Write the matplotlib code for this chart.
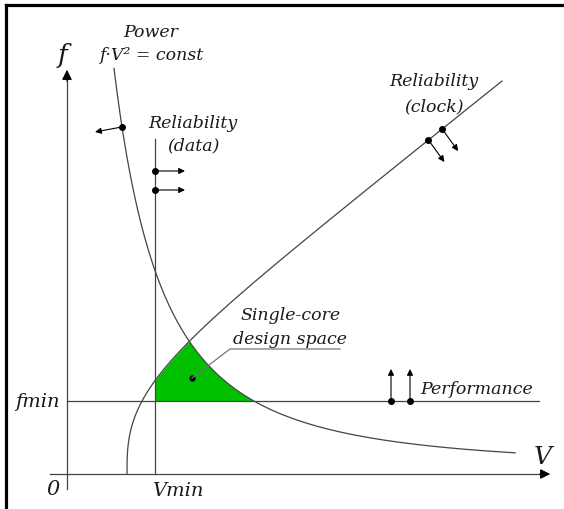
import numpy as np
import matplotlib
matplotlib.use("Agg")
import matplotlib.pyplot as plt

# V-f design space: units are arbitrary (1 unit = 100 px on the canvas)
V_MIN = 0.88
F_MIN = 0.73

# power curve  f = F0 + C / (V - V0)^2
POWER_C = 3.76
POWER_V0 = -0.50
POWER_F0 = 0.06
POWER_V_RANGE = [0.47, 4.48]

# clock reliability curve, given as V(f) (vertical at the threshold voltage)
CLOCK_VT = 0.60
CLOCK_SLOPE = 0.80
CLOCK_H = 0.93
CLOCK_F_RANGE = [0.0, 3.93]

# marker positions on each constraint
power_dot_v = [0.55]
data_dot_f = [3.03, 2.84]
clock_dot_f = [3.34, 3.45]
perf_dot_v = [3.24, 3.43]
design_dot = [1.25, 0.96]

LINE = "#444444"
GREEN = "#00c000"


def power_f(v):
    return POWER_F0 + POWER_C / (v - POWER_V0) ** 2


def power_v(f):
    return POWER_V0 + np.sqrt(POWER_C / (f - POWER_F0))


def clock_v(f):
    return CLOCK_VT + (f - CLOCK_H * np.tanh(f / CLOCK_H)) / CLOCK_SLOPE


fig = plt.figure(figsize=(5.64, 5.10), dpi=100)
ax = fig.add_axes([5.5 / 564, 0, 1 - 5.5 / 564, 1 - 5.5 / 510])
ax.set_xlim(-0.615, 4.97)
ax.set_ylim(-0.35, 4.695)
ax.set_xticks([])
ax.set_yticks([])
for side in ["right", "bottom"]:
    ax.spines[side].set_visible(False)
for side in ["top", "left"]:
    ax.spines[side].set_linewidth(2.3)
    ax.spines[side].set_color("black")

font = dict(family="DejaVu Serif", style="italic", color="#1a1a1a")
LW = 0.9

# axes with arrow heads
ax.plot([0, 0], [-0.15, 3.95], color=LINE, lw=LW)
ax.plot([-0.17, 4.75], [0, 0], color=LINE, lw=LW)
ax.annotate("", xy=(0, 4.07), xytext=(0, 3.9),
            arrowprops=dict(arrowstyle="-|>", color="black", lw=0.8, mutation_scale=15))
ax.annotate("", xy=(4.86, 0), xytext=(4.7, 0),
            arrowprops=dict(arrowstyle="-|>", color="black", lw=0.8, mutation_scale=15))

# design space
ff = np.linspace(F_MIN, 1.6, 400)
left = np.maximum(V_MIN, clock_v(ff))
right = power_v(ff)
ax.fill_betweenx(ff, left, right, where=right >= left, interpolate=True,
                 color=GREEN, lw=0)

# constraint lines
ax.plot([0, 4.72], [F_MIN, F_MIN], color=LINE, lw=LW)
ax.plot([V_MIN, V_MIN], [0, 3.35], color=LINE, lw=LW)

vv = np.linspace(POWER_V_RANGE[0], POWER_V_RANGE[1], 400)
ax.plot(vv, power_f(vv), color=LINE, lw=LW)

fc = np.linspace(CLOCK_F_RANGE[0], CLOCK_F_RANGE[1], 400)
ax.plot(clock_v(fc), fc, color=LINE, lw=LW)

# constraint direction arrows
arrow = dict(arrowstyle="-|>", color="black", lw=0.8, mutation_scale=9,
             shrinkA=0, shrinkB=0)
for v in power_dot_v:
    f = power_f(v)
    ax.plot(v, f, "o", color="black", ms=4)
    ax.annotate("", xy=(v - 0.27, f - 0.05), xytext=(v, f), arrowprops=arrow)
for f in data_dot_f:
    ax.plot(V_MIN, f, "o", color="black", ms=4)
    ax.annotate("", xy=(V_MIN + 0.30, f), xytext=(V_MIN, f), arrowprops=arrow)
for f in clock_dot_f:
    v = clock_v(f)
    ax.plot(v, f, "o", color="black", ms=4)
    ax.annotate("", xy=(v + 0.16, f - 0.22), xytext=(v, f), arrowprops=arrow)
for v in perf_dot_v:
    ax.plot(v, F_MIN, "o", color="black", ms=4)
    ax.annotate("", xy=(v, F_MIN + 0.32), xytext=(v, F_MIN), arrowprops=arrow)

# leader from the design space label
ax.plot(design_dot[0], design_dot[1], "o", color="black", ms=3.5)
ax.plot([design_dot[0], 1.63, 2.73], [design_dot[1], 1.25, 1.25],
        color="#777777", lw=LW)

# labels
ax.text(-0.05, 4.19, "f", fontsize=19, ha="center", va="center", **font)
ax.text(4.76, 0.17, "V", fontsize=18, ha="center", va="center", **font)
ax.text(-0.14, -0.15, "0", fontsize=15, ha="center", va="center", **font)
ax.text(-0.07, F_MIN, "fmin", fontsize=14, ha="right", va="center", **font)
ax.text(1.11, -0.16, "Vmin", fontsize=14, ha="center", va="center", **font)
ax.text(0.84, 4.43, "Power", fontsize=12.5, ha="center", va="center", **font)
ax.text(0.84, 4.19, "f·V² = const", fontsize=12.5, ha="center", va="center", **font)
ax.text(1.26, 3.51, "Reliability", fontsize=12.5, ha="center", va="center", **font)
ax.text(1.26, 3.29, "(data)", fontsize=12.5, ha="center", va="center", **font)
ax.text(3.67, 3.93, "Reliability", fontsize=12.5, ha="center", va="center", **font)
ax.text(3.67, 3.68, "(clock)", fontsize=12.5, ha="center", va="center", **font)
ax.text(2.24, 1.59, "Single-core", fontsize=12.5, ha="center", va="center", **font)
ax.text(2.23, 1.35, "design space", fontsize=12.5, ha="center", va="center", **font)
ax.text(4.10, 0.85, "Performance", fontsize=12.5, ha="center", va="center", **font)

fig.savefig("out.png", dpi=100)
